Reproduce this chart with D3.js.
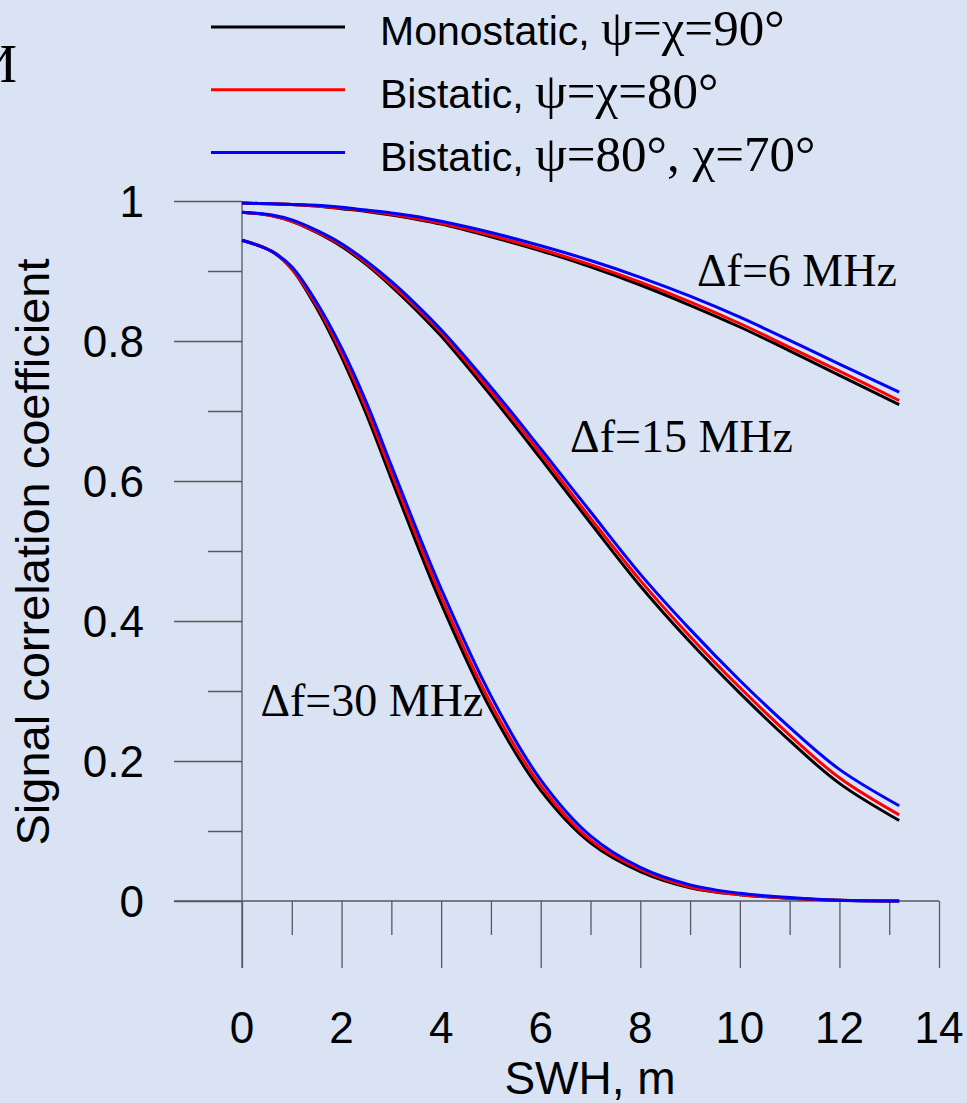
<!DOCTYPE html>
<html>
<head>
<meta charset="utf-8">
<script src="https://cdn.jsdelivr.net/npm/d3@7"></script>
<style>
  html, body { margin: 0; padding: 0; background: #dae3f3; }
  svg { display: block; }
</style>
</head>
<body>
<div id="chart"></div>
<script>
// SWH values, m
const swh = [0, 0.6, 1, 1.5, 2, 2.5, 3, 3.5, 4, 5, 6, 7, 8, 9, 10, 11, 12, 13.2];

// df = 6 MHz
const mono6  = [0.997, 0.996, 0.995, 0.993, 0.989, 0.985, 0.980, 0.974, 0.967, 0.949, 0.929, 0.906, 0.880, 0.851, 0.820, 0.786, 0.751, 0.709];
const bi6    = [0.997, 0.996, 0.995, 0.993, 0.990, 0.986, 0.981, 0.975, 0.968, 0.951, 0.931, 0.909, 0.884, 0.856, 0.825, 0.791, 0.757, 0.715];
const bi6b   = [0.997, 0.996, 0.995, 0.994, 0.991, 0.987, 0.983, 0.978, 0.971, 0.955, 0.936, 0.915, 0.891, 0.864, 0.834, 0.801, 0.767, 0.727];

// df = 15 MHz
const mono15 = [0.984, 0.979, 0.971, 0.955, 0.935, 0.909, 0.878, 0.844, 0.807, 0.722, 0.632, 0.540, 0.450, 0.370, 0.297, 0.229, 0.168, 0.115];
const bi15   = [0.984, 0.979, 0.971, 0.956, 0.937, 0.911, 0.881, 0.848, 0.812, 0.728, 0.639, 0.547, 0.458, 0.378, 0.305, 0.237, 0.176, 0.123];
const bi15b  = [0.984, 0.980, 0.973, 0.958, 0.939, 0.914, 0.885, 0.852, 0.816, 0.734, 0.646, 0.556, 0.467, 0.388, 0.315, 0.248, 0.188, 0.136];

// df = 30 MHz
const mono30 = [0.944, 0.928, 0.903, 0.847, 0.777, 0.695, 0.603, 0.512, 0.425, 0.273, 0.158, 0.083, 0.042, 0.019, 0.009, 0.004, 0.001, 0.000];
const bi30   = [0.944, 0.928, 0.903, 0.851, 0.783, 0.703, 0.612, 0.522, 0.435, 0.282, 0.165, 0.087, 0.045, 0.020, 0.009, 0.004, 0.001, 0.000];
const bi30b  = [0.944, 0.928, 0.906, 0.855, 0.790, 0.712, 0.622, 0.532, 0.446, 0.293, 0.173, 0.093, 0.048, 0.023, 0.011, 0.005, 0.001, 0.000];

const xMajor = [0, 2, 4, 6, 8, 10, 12, 14];
const xMinor = [1, 3, 5, 7, 9, 11, 13];
const yMajor = [0, 0.2, 0.4, 0.6, 0.8, 1];
const yMinor = [0.1, 0.3, 0.5, 0.7, 0.9];
const yLabels = ['0', '0.2', '0.4', '0.6', '0.8', '1'];

const legendNames = [
  ['Monostatic, ', 'ψ=χ=90°'],
  ['Bistatic, ', 'ψ=χ=80°'],
  ['Bistatic, ', 'ψ=80°, χ=70°']
];
const colors = ['#000000', '#ff0000', '#0000ff'];

const annotations = [
  { text: 'Δf=6 MHz', h: 9.14, v: 0.878 },
  { text: 'Δf=15 MHz', h: 6.59, v: 0.642 },
  { text: 'Δf=30 MHz', h: 0.37, v: 0.265 }
];

const W = 967, H = 1103;
const sans = '"Liberation Sans", Arial, sans-serif';
const serif = '"Liberation Serif", "Times New Roman", serif';

const svg = d3.select('#chart').append('svg')
  .attr('width', W).attr('height', H);

svg.append('rect').attr('width', W).attr('height', H).attr('fill', '#dae3f3');

const x = d3.scaleLinear().domain([0, 14]).range([242, 939]);
const y = d3.scaleLinear().domain([0, 1]).range([901, 201]);

const axisColor = '#555a60';

// axis lines
svg.append('line')
  .attr('x1', 174).attr('x2', x(14)).attr('y1', y(0)).attr('y2', y(0))
  .attr('stroke', axisColor).attr('stroke-width', 1.3);
svg.append('line')
  .attr('x1', x(0)).attr('x2', x(0)).attr('y1', y(1)).attr('y2', 968)
  .attr('stroke', axisColor).attr('stroke-width', 1.3);

// ticks
function ticks(axis, vals, size) {
  const g = svg.append('g')
    .attr('transform', axis === 'x' ? `translate(0,${y(0)})` : `translate(${x(0)},0)`)
    .call((axis === 'x' ? d3.axisBottom(x) : d3.axisLeft(y))
      .tickValues(vals).tickSize(size).tickFormat(''));
  g.select('.domain').remove();
  g.selectAll('line').attr('stroke', axisColor).attr('stroke-width', 1.3);
}
ticks('x', xMajor, 67);
ticks('x', xMinor, 34);
ticks('y', yMajor, 68);
ticks('y', yMinor, 34);

// tick labels
svg.selectAll('.xl').data(xMajor).enter().append('text')
  .attr('x', d => x(d)).attr('y', 1043)
  .attr('text-anchor', 'middle')
  .attr('font-family', sans).attr('font-size', 44)
  .text(d => d);

svg.selectAll('.yl').data(yMajor).enter().append('text')
  .attr('x', 144).attr('y', d => y(d) + 16)
  .attr('text-anchor', 'end')
  .attr('font-family', sans).attr('font-size', 44)
  .text((d, i) => yLabels[i]);

// axis titles
svg.append('text')
  .attr('x', 590).attr('y', 1094)
  .attr('text-anchor', 'middle')
  .attr('font-family', sans).attr('font-size', 46)
  .text('SWH, m');

svg.append('text')
  .attr('transform', 'translate(49,552) rotate(-90)')
  .attr('text-anchor', 'middle')
  .attr('font-family', sans).attr('font-size', 47)
  .text('Signal correlation coefficient');

// curves
const groups = [
  [mono6, bi6, bi6b],
  [mono15, bi15, bi15b],
  [mono30, bi30, bi30b]
];
const line = d3.line()
  .x((d, i) => x(swh[i]))
  .y(d => y(d))
  .curve(d3.curveCatmullRom.alpha(0.5));

[0, 1, 2].forEach(k => {
  svg.selectAll('.c' + k)
    .data(groups.map(g => g[k]))
    .enter().append('path')
    .attr('d', line)
    .attr('fill', 'none')
    .attr('stroke', colors[k])
    .attr('stroke-width', 3);
});

// annotations
svg.selectAll('.ann').data(annotations).enter().append('text')
  .attr('x', d => x(d.h)).attr('y', d => y(d.v))
  .attr('font-family', serif).attr('font-size', 46)
  .text(d => d.text);

// legend
const leg = svg.selectAll('.leg').data(legendNames).enter().append('g')
  .attr('transform', (d, i) => `translate(0,${27 + i * 62.8})`);
leg.append('line')
  .attr('x1', 211).attr('x2', 345)
  .attr('stroke', (d, i) => colors[i]).attr('stroke-width', 3);
const lt = leg.append('text')
  .attr('x', 380).attr('y', 18);
lt.append('tspan').attr('font-family', sans).attr('font-size', 41).text(d => d[0]);
lt.append('tspan').attr('font-family', serif).attr('font-size', 51).text(d => d[1]);

// clipped glyph at top-left
svg.append('text')
  .attr('x', 17).attr('y', 82)
  .attr('text-anchor', 'end')
  .attr('font-family', serif).attr('font-size', 54)
  .text('И');
</script>
</body>
</html>
